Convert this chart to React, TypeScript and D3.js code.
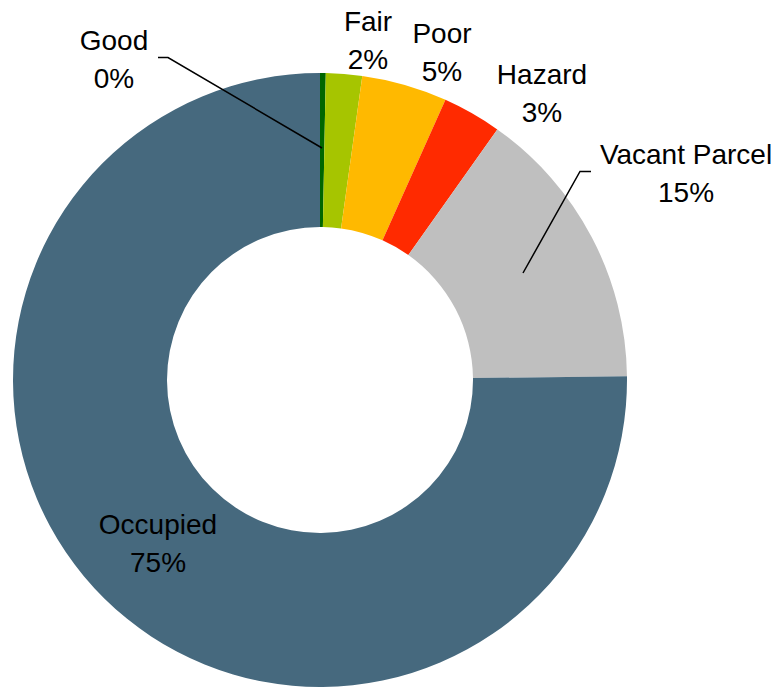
import React from "react";
import { pie, arc, scaleOrdinal } from "d3";

const width = 778;
const height = 687;
const cx = 320;
const cy = 380;
const outerRadius = 307;
const innerRadius = 153;

const categories = ["Good", "Fair", "Poor", "Hazard", "Vacant Parcel", "Occupied"];
const values = [0.3, 1.9, 4.5, 3.1, 15.0, 75.2];
const colors = ["#006600", "#a6c500", "#ffb900", "#ff2a00", "#bfbfbf", "#46697e"];

// label anchor (centre of first line baseline) per category, in svg coords
const labelPos: Record<string, [number, number]> = {
  Good: [114, 50],
  Fair: [368, 31],
  Poor: [442, 43],
  Hazard: [542, 84],
  "Vacant Parcel": [686, 164],
  Occupied: [158, 534],
};

// leader lines: [text end, elbow, slice point]
const leaders: Record<string, [number, number][]> = {
  Good: [[158, 57.5], [168, 57.5], [322, 148]],
  "Vacant Parcel": [[591, 171.5], [580, 171.5], [523, 273]],
};

const data = categories.map((name, i) => ({ name, value: values[i] }));

const color = scaleOrdinal<string, string>().domain(categories).range(colors);

const pieGen = pie<{ name: string; value: number }>()
  .value((d) => d.value)
  .sort(null);

const arcGen = arc<any>().innerRadius(innerRadius).outerRadius(outerRadius);

const lineHeight = 38;

export default function App() {
  const arcs = pieGen(data);
  const total = values.reduce((s, v) => s + v, 0);
  return (
    <svg
      width={width}
      height={height}
      style={{ position: "absolute", left: 0, top: 0, background: "#fff" }}
      fontFamily="'Liberation Sans', Arial, sans-serif"
      fontSize={28}
    >
      <g transform={`translate(${cx}, ${cy})`}>
        {arcs.map((a) => (
          <path key={a.data.name} d={arcGen(a) || ""} fill={color(a.data.name)} />
        ))}
      </g>
      {Object.entries(leaders).map(([k, pts]) => (
        <polyline
          key={k}
          points={pts.map((p) => p.join(",")).join(" ")}
          fill="none"
          stroke="#000"
          strokeWidth={1.5}
        />
      ))}
      {data.map((d) => {
        const [x, y] = labelPos[d.name];
        return (
          <text key={d.name} x={x} y={y} textAnchor="middle" fill="#000">
            <tspan x={x}>{d.name}</tspan>
            <tspan x={x} dy={lineHeight}>
              {Math.round((d.value / total) * 100)}%
            </tspan>
          </text>
        );
      })}
    </svg>
  );
}
